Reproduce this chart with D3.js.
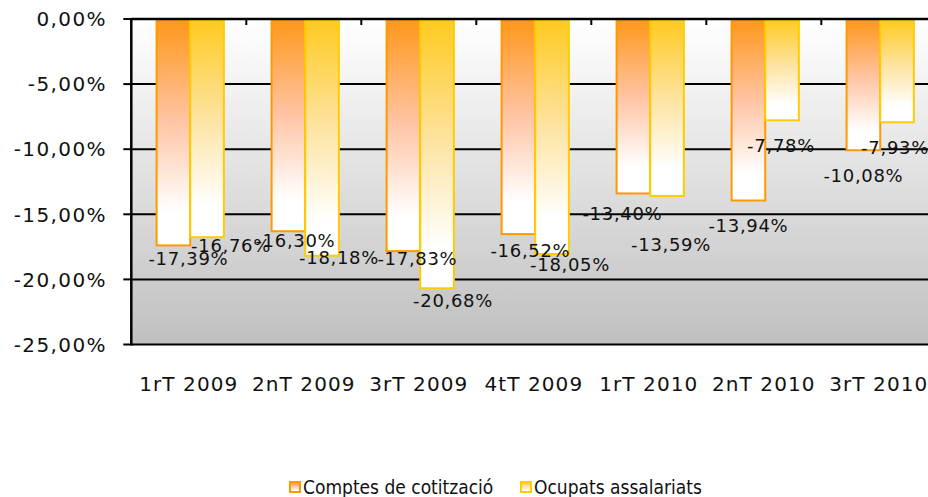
<!DOCTYPE html>
<html>
<head>
<meta charset="utf-8">
<script src="https://cdn.jsdelivr.net/npm/d3@7"></script>
<style>
  html, body { margin: 0; padding: 0; background: #fff; }
  svg { display: block; }
</style>
</head>
<body>
<svg id="chart" width="928" height="497"></svg>
<script>
// ---- data ----
const categories = ["1rT 2009", "2nT 2009", "3rT 2009", "4tT 2009", "1rT 2010", "2nT 2010", "3rT 2010"];
const seriesNames = ["Comptes de cotització", "Ocupats assalariats"];
const comptes = [-17.39, -16.30, -17.83, -16.52, -13.40, -13.94, -10.08];
const ocupats = [-16.76, -18.18, -20.68, -18.05, -13.59, -7.78, -7.93];
const yTicks = [0, -5, -10, -15, -20, -25];

// ---- layout (label nudges as placed in the original, px) ----
const nudgeComptes = [[15, 13], [7, 9], [14, 7], [12, 16], [-11, 20], [0, 25.5], [0, 25]];
const nudgeOcupats = [[24, 8], [17, 1.5], [16, 12], [18, 11], [4, 49], [-1, 25], [-2, 25]];

const locale = d3.formatLocale({decimal: ",", thousands: ".", grouping: [3], currency: ["", "€"], minus: "-"});
const fmt = v => locale.format(".2f")(v) + "%";

const svg = d3.select("#chart");
const plotLeft = 131.3, plotTop = 19, plotBottom = 344.5;
const x = d3.scaleBand().domain(categories).range([plotLeft, plotLeft + 115 * 7]).padding(0);
const y = d3.scaleLinear().domain([0, -25]).range([plotTop, plotBottom]);
const inner = d3.scaleBand().domain([0, 1]).range([0, x.bandwidth() * 0.585]);
const groupOff = x.bandwidth() * 0.22;

const defs = svg.append("defs");
const bg = defs.append("linearGradient").attr("id", "bg").attr("x1", 0).attr("y1", 0).attr("x2", 0).attr("y2", 1);
bg.append("stop").attr("offset", 0).attr("stop-color", "#ffffff");
bg.append("stop").attr("offset", 1).attr("stop-color", "#c0c0c0");

function barGrad(id, c0, c1) {
  const g = defs.append("linearGradient").attr("id", id).attr("x1", 0).attr("y1", 0).attr("x2", 0).attr("y2", 1);
  g.append("stop").attr("offset", 0).attr("stop-color", c0);
  g.append("stop").attr("offset", 0.45).attr("stop-color", c1);
  g.append("stop").attr("offset", 0.85).attr("stop-color", "#ffffff");
  g.append("stop").attr("offset", 1).attr("stop-color", "#ffffff");
}
barGrad("gO", "#ff9719", "#ffc4a4");
barGrad("gY", "#ffca1e", "#fde3a0");

// plot background
const xRight = x.range()[1];
svg.append("rect").attr("x", plotLeft).attr("y", plotTop).attr("width", xRight - plotLeft).attr("height", plotBottom - plotTop)
  .attr("fill", "url(#bg)");

// gridlines
svg.append("g").selectAll("line").data(yTicks.filter(t => t !== 0)).join("line")
  .attr("x1", plotLeft).attr("x2", xRight)
  .attr("y1", d => y(d)).attr("y2", d => y(d))
  .attr("stroke", "#000").attr("stroke-width", 2);

// bars
const series = [
  {name: seriesNames[0], values: comptes, grad: "url(#gO)", stroke: "#ff9900", nudge: nudgeComptes},
  {name: seriesNames[1], values: ocupats, grad: "url(#gY)", stroke: "#ffcc00", nudge: nudgeOcupats}
];
series.forEach((s, si) => {
  svg.append("g").selectAll("rect").data(s.values).join("rect")
    .attr("x", (d, i) => x(categories[i]) + groupOff + inner(si))
    .attr("y", y(0))
    .attr("width", inner.bandwidth())
    .attr("height", d => y(d) - y(0))
    .attr("fill", s.grad)
    .attr("stroke", s.stroke).attr("stroke-width", 2);
});

// axes
svg.append("line").attr("x1", plotLeft).attr("x2", xRight).attr("y1", plotTop).attr("y2", plotTop)
  .attr("stroke", "#000").attr("stroke-width", 2.5);
svg.append("line").attr("x1", plotLeft).attr("x2", plotLeft).attr("y1", plotTop - 1).attr("y2", plotBottom + 1)
  .attr("stroke", "#000").attr("stroke-width", 2.5);
// category tick marks on top axis
svg.append("g").selectAll("line").data(categories.slice(1)).join("line")
  .attr("x1", d => x(d)).attr("x2", d => x(d)).attr("y1", plotTop).attr("y2", plotTop + 6)
  .attr("stroke", "#000").attr("stroke-width", 2);
// y ticks
svg.append("g").selectAll("line").data(yTicks).join("line")
  .attr("x1", plotLeft - 8).attr("x2", plotLeft).attr("y1", d => y(d)).attr("y2", d => y(d))
  .attr("stroke", "#000").attr("stroke-width", 2);
svg.append("g").selectAll("text").data(yTicks).join("text")
  .attr("x", 107).attr("y", d => y(d)).attr("dy", "0.36em")
  .attr("text-anchor", "end")
  .style("font-family", "'DejaVu Sans', Verdana, sans-serif").style("font-size", "20px")
  .style("letter-spacing", "1.4px").attr("fill", "#111")
  .text(d => fmt(d));

// category labels
svg.append("g").selectAll("text").data(categories).join("text")
  .attr("x", d => x(d) + x.bandwidth() / 2).attr("y", 384).attr("dy", "0.36em")
  .attr("text-anchor", "middle")
  .style("font-family", "'DejaVu Sans', Verdana, sans-serif").style("font-size", "20px")
  .style("letter-spacing", "1.1px").attr("fill", "#111")
  .text(d => d);

// data labels
series.forEach((s, si) => {
  svg.append("g").selectAll("text").data(s.values).join("text")
    .attr("x", (d, i) => x(categories[i]) + groupOff + inner(si) + inner.bandwidth() / 2 + s.nudge[i][0])
    .attr("y", (d, i) => y(d) + s.nudge[i][1]).attr("dy", "0.36em")
    .attr("text-anchor", "middle")
    .style("font-family", "'DejaVu Sans', Verdana, sans-serif").style("font-size", "18px")
    .style("letter-spacing", "0.7px").attr("fill", "#111")
    .text(d => fmt(d));
});

// legend
const legendX = [290, 521];
const lg = svg.append("g");
series.forEach((s, si) => {
  lg.append("rect").attr("x", legendX[si]).attr("y", 482).attr("width", 10).attr("height", 10)
    .attr("fill", s.grad).attr("stroke", s.stroke).attr("stroke-width", 2);
  lg.append("text").attr("x", legendX[si] + 13).attr("y", 487).attr("dy", "0.36em")
    .style("font-family", "'DejaVu Sans Condensed', 'DejaVu Sans', sans-serif")
    .style("font-stretch", "condensed")
    .style("font-size", "19px").attr("fill", "#111")
    .text(s.name);
});
</script>
</body>
</html>
